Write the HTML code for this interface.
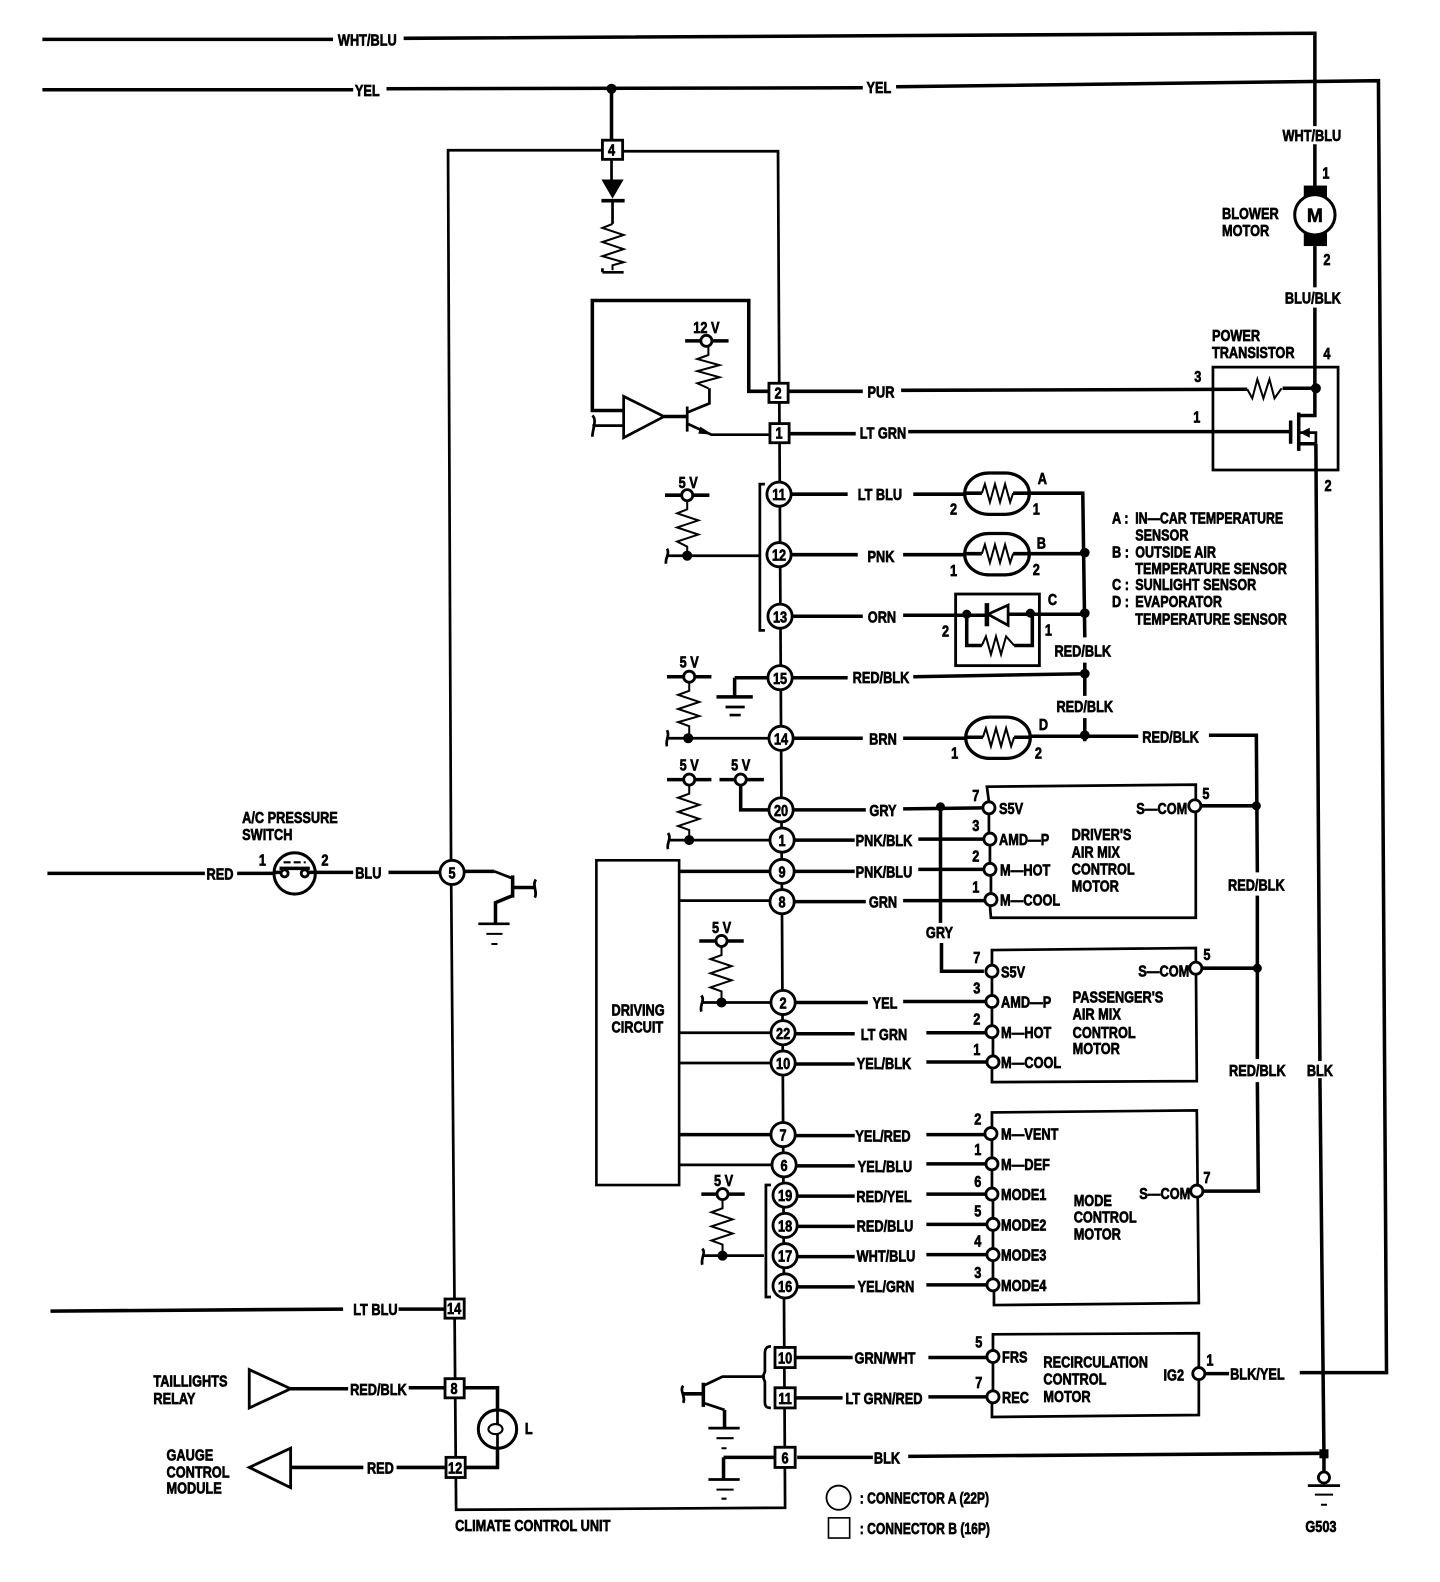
<!DOCTYPE html>
<html><head><meta charset="utf-8"><title>Climate Control Wiring Diagram</title>
<style>
html,body{margin:0;padding:0;background:#fff;width:1440px;height:1582px;overflow:hidden}
svg{display:block}
.w{fill:none;stroke:#000;stroke-width:3.5;stroke-linejoin:miter}
.n{fill:none;stroke:#000;stroke-width:2.7}
.z{fill:none;stroke:#000;stroke-width:2}
.c{fill:#fff;stroke:#000;stroke-width:2.8}
.d{fill:#000;stroke:none}
text{font-family:"Liberation Sans",sans-serif;font-weight:700;font-size:16px;fill:#000;stroke:#000;stroke-width:.7;text-anchor:middle}
.s{text-anchor:start}
</style></head><body>
<svg width="1440" height="1582" viewBox="0 0 1427 1568.6" preserveAspectRatio="none" xmlns="http://www.w3.org/2000/svg">
<rect x="0" y="0" width="1427" height="1569" fill="#fff"/>

<!-- top feeds -->
<path class="w" d="M42 39H330M400 38L1303 33V125M1303 143V185M1303 244V285M1303 305V412H1287M1304 440H1287M1304 440L1308 1052M1308 1069L1312 1442V1460"/>
<path class="w" d="M42 89H350M383 88L855 87M888 86L1366 80L1374 1361H1288M1218 1362H1195"/>
<path class="w" d="M606 88V139"/><circle class="d" cx="606" cy="88" r="5"/>

<!-- climate control unit outline and buses -->
<path class="n" d="M597 149H444L447 860L452 1497L778 1495L771 150H615"/>

<!-- diode + resistor -->
<path class="n" d="M606 157V178"/>
<path class="d" d="M596 178H618L607 197Z"/>
<path class="w" d="M596 199H619"/>
<path class="n" d="M607 199V222"/>
<path class="z" d="M607 222L597 226L618 233L597 240L618 247L597 254L618 260L607 263V268"/>
<path class="n" d="M597 270H618M597 270V266"/>

<!-- op amp and transistor -->
<path class="w" d="M618 407H587V298H742V388H763"/>
<path class="n" d="M587 422H618M587 412C592 416 587 426 587 433"/>
<path class="n" d="M618 393V434L658 413Z" style="fill:#fff"/>
<path class="w" d="M658 413H680"/>
<path class="n" d="M681 403V428M681 409L703 400V385M681 420L705 431H763"/>
<path class="d" d="M694 423L706 431L692 430Z"/>
<path class="z" d="M702 385L691 380L713 374L691 368L713 362L691 356L702 352V343"/>
<path class="w" d="M679 338H722"/><circle class="c" cx="700" cy="338" r="5.5"/>
<text transform="translate(700,330)scale(.79,1)">12 V</text>

<!-- PUR / LT GRN -->
<path class="w" d="M780 388H855M893 387L1236 386M1271 385H1304"/>
<path class="w" d="M781 430H848M900 428H1278"/>
<circle class="d" cx="1304" cy="385" r="5"/>
<path class="n" d="M1202 364H1326V466H1202Z"/>
<path class="z" d="M1236 386L1241 395L1246 376L1252 395L1258 376L1263 395L1270 385"/>
<path class="w" d="M1279 417V440M1287 409V447"/>
<path class="n" d="M1287 429H1304V440"/>
<path class="d" d="M1288 429L1298 424V434Z"/>

<!-- blower motor -->
<rect class="d" x="1292" y="184" width="23" height="60"/>
<circle cx="1303" cy="213" r="20" fill="#fff" stroke="#000" stroke-width="3"/>

<!-- sensors 5V -->
<path class="w" d="M659 491H703"/><circle class="c" cx="681" cy="491" r="5.5"/>
<path class="z" d="M681 497V505L671 509L692 516L671 523L692 530L671 537L681 542V551"/>
<path class="n" d="M661 551H752M661 544C664 549 659 553 660 559"/>
<circle class="d" cx="681" cy="551" r="5"/>
<path class="n" d="M758 480H753V625H758"/>

<!-- 11 12 13 -->
<path class="w" d="M785 490H840M905 490H956M1020 489H1073L1075 632M1075 657V690M1075 712V735"/>
<path class="w" d="M785 550H850M895 550H956M1020 549H1075"/>
<path class="w" d="M786 611H855M895 610H979M999 609H1075"/>
<circle class="d" cx="1075" cy="548" r="4.8"/><circle class="d" cx="1075" cy="608" r="4.8"/>
<circle class="d" cx="1075" cy="668" r="4.8"/><circle class="d" cx="1075" cy="729" r="4.8"/>

<rect x="956" y="469" width="64" height="41" rx="24" class="c" style="stroke-width:3.2"/>
<path class="z" d="M973 489L976 480L981 498L986 480L991 498L996 480L1001 498L1004 489"/>
<path class="w" d="M956 489H973M1004 489H1020"/>
<rect x="956" y="529" width="64" height="41" rx="24" class="c" style="stroke-width:3.2"/>
<path class="z" d="M973 549L976 540L981 558L986 540L991 558L996 540L1001 558L1004 549"/>
<path class="w" d="M956 549H973M1004 549H1020"/>
<rect x="957" y="711" width="64" height="41" rx="24" class="c" style="stroke-width:3.2"/>
<path class="z" d="M974 731L977 722L982 740L987 722L992 740L997 722L1002 740L1005 731"/>
<path class="w" d="M957 731H974M1005 731H1021"/>
<rect x="947" y="589" width="83" height="71" class="n" style="stroke-width:2.8"/>
<path class="w" d="M958 609V640H973M1005 640H1023V608"/>
<path class="n" d="M979 609L999 600V620Z"/><path d="M978 598V621" fill="none" stroke="#000" stroke-width="4.5"/>
<path class="z" d="M973 640L977 631L982 649L987 631L992 649L997 631L1005 640"/>
<circle class="d" cx="958" cy="609" r="4.5"/><circle class="d" cx="1021" cy="608" r="4.5"/>

<!-- 15 / 14 -->
<path class="w" d="M661 671H705"/><circle class="c" cx="683" cy="671" r="5.5"/>
<path class="z" d="M683 677V685L672 689L693 696L672 703L693 710L672 716L683 720V732"/>
<path class="n" d="M661 732H764M661 724C664 730 659 734 661 740"/>
<circle class="d" cx="682" cy="732" r="5"/>
<path class="w" d="M728 672H763V672M728 672V690"/>
<path class="w" d="M710 691H746"/><path class="n" d="M719 701H738M723 709H734"/>
<path class="w" d="M785 672H840M905 671L1075 668"/>
<path class="w" d="M786 732H855M895 732H957M1021 730H1128M1198 729H1245L1246 865M1246 888V1050M1246 1073L1247 1181H1192"/>
<circle class="d" cx="1245" cy="799" r="4.5"/><circle class="d" cx="1246" cy="960" r="4.5"/>

<!-- 20 / 1 5V -->
<path class="w" d="M661 773H705M713 773H757"/>
<circle class="c" cx="683" cy="773" r="5.5"/><circle class="c" cx="734" cy="773" r="5.5"/>
<path class="w" d="M734 779V803H764"/>
<path class="z" d="M683 779V787L672 791L693 798L672 805L693 812L672 819L683 823V833"/>
<path class="n" d="M662 833H765M662 826C666 832 660 836 662 842"/>
<circle class="d" cx="683" cy="833" r="5"/>

<!-- driving circuit -->
<rect x="591" y="853" width="82" height="322" class="n" style="stroke-width:2.6;fill:#fff"/>
<path class="w" d="M673 864H765M673 1125H765"/>
<path class="n" d="M673 893H765M673 1024H765M673 1054H765M673 1155H766"/>

<!-- 5V for 2 -->
<path class="w" d="M693 933H737"/><circle class="c" cx="715" cy="933" r="5.5"/>
<path class="z" d="M715 939V947L704 951L725 958L704 965L725 972L704 979L715 983V994"/>
<path class="n" d="M695 994H765M695 987C699 992 693 996 695 1003"/>
<circle class="d" cx="715" cy="994" r="5"/>

<!-- 5V for 19-16 -->
<path class="w" d="M695 1184H738"/><circle class="c" cx="716" cy="1184" r="5.5"/>
<path class="z" d="M716 1190V1198L705 1202L726 1209L705 1216L726 1223L705 1230L716 1234V1245"/>
<path class="n" d="M696 1245H757M696 1238C700 1243 694 1247 696 1254"/>
<circle class="d" cx="716" cy="1245" r="5"/>
<path class="n" d="M764 1175H759V1286H764"/>

<!-- right side pin wires -->
<path class="w" d="M786 803H858M895 802L975 801"/>
<circle class="d" cx="932" cy="800" r="4.5"/>
<path class="w" d="M932 800V915M933 935V963H975"/>
<path class="w" d="M787 833H847M910 832H975M787 864H847M910 862H975M787 894H858M895 893H976"/>
<path class="w" d="M787 994H860M895 993H977M787 1025H847M918 1024H977M787 1055H847M918 1053H978"/>
<path class="w" d="M788 1126H847M918 1125H976M788 1156H847M918 1154H977M790 1186H847M918 1184H977M790 1216H847M918 1214H978M790 1246H847M918 1244H978M790 1276H847M918 1274H978"/>
<path class="w" d="M787 1346H845M920 1346H978M787 1386H835M920 1385H978"/>

<!-- motor boxes -->
<path class="n" d="M980 795L978 780L1185 778V910H982L981 898M980 807V826M981 838V856M982 868V886"/>
<path class="n" d="M983 957V942L1185 940L1186 1072L983 1073V1059M983 969V987M983 999V1017M984 1029V1047"/>
<path class="n" d="M983 1118V1103L1186 1101L1188 1292L985 1294V1280M983 1130V1148M983 1160V1178M984 1190V1208M984 1220V1238M984 1250V1268"/>
<path class="n" d="M984 1339V1323L1188 1322V1403L983 1405V1391M984 1351V1379"/>
<path class="w" d="M1190 799H1245M1190 960H1246"/>

<g class="pins">
<circle class="c" cx="980" cy="801" r="6"/><circle class="c" cx="981" cy="832" r="6"/><circle class="c" cx="981" cy="862" r="6"/><circle class="c" cx="982" cy="892" r="6"/><circle class="c" cx="1184" cy="799" r="6"/>
<circle class="c" cx="983" cy="963" r="6"/><circle class="c" cx="983" cy="993" r="6"/><circle class="c" cx="983" cy="1023" r="6"/><circle class="c" cx="984" cy="1053" r="6"/><circle class="c" cx="1185" cy="960" r="6"/>
<circle class="c" cx="982" cy="1124" r="6"/><circle class="c" cx="983" cy="1154" r="6"/><circle class="c" cx="983" cy="1184" r="6"/><circle class="c" cx="984" cy="1214" r="6"/><circle class="c" cx="984" cy="1244" r="6"/><circle class="c" cx="984" cy="1274" r="6"/><circle class="c" cx="1186" cy="1181" r="6"/>
<circle class="c" cx="984" cy="1345" r="6"/><circle class="c" cx="984" cy="1385" r="6"/><circle class="c" cx="1188" cy="1362" r="6"/>
</g>

<!-- lower transistor and grounds -->
<path class="w" d="M676 1382H697"/><path class="n" d="M677 1374C673 1379 680 1385 677 1391"/>
<path class="w" d="M697 1371V1395"/>
<path class="n" d="M697 1374L716 1365H758M697 1391L718 1398"/>
<path class="w" d="M718 1398V1416"/>
<path class="n" d="M702 1416H733"/><path class="z" d="M710 1426H727M715 1436H720"/>
<path class="n" d="M764 1335C759 1335 758 1338 758 1342V1360L756 1365L758 1370V1390C758 1394 759 1396 764 1396"/>
<path class="w" d="M717 1445H768M790 1445H865M900 1444L1312 1441M717 1445V1467"/>
<path class="n" d="M702 1467H733"/><path class="z" d="M710 1477H727M715 1486H720"/>
<rect x="1307.5" y="1437" width="9" height="9" class="d"/>
<circle class="c" cx="1312" cy="1465" r="5.5"/>
<path class="n" d="M1296 1473H1328"/><path class="z" d="M1303 1482H1321M1309 1492H1315"/>

<!-- left: A/C switch -->
<path class="w" d="M47 866H203M235 866H272M313 865H350M385 865H438"/>
<circle cx="292" cy="866" r="20.5" fill="#fff" stroke="#000" stroke-width="3"/>
<path class="w" d="M272 865H279M306 865H313M277 861H307"/>
<circle class="c" cx="282" cy="866" r="3.5"/><circle class="c" cx="302" cy="866" r="3.5"/>
<path class="z" d="M281 855H303" stroke-dasharray="7 3"/>
<path class="w" d="M457 864H490"/>
<path class="n" d="M490 864L508 871"/>
<path class="w" d="M508 868V890M508 880H529"/>
<path class="n" d="M531 872C527 878 533 884 530 890"/>
<path class="w" d="M508 888L491 895V917"/>
<path class="n" d="M474 916H505"/><path class="z" d="M482 926H498M487 936H493"/>

<!-- left: LT BLU, taillight, gauge -->
<path class="w" d="M50 1300L340 1298M395 1298H441"/>
<path class="w" d="M247 1358V1396L288 1377Z" style="stroke-width:2.8"/>
<path class="w" d="M288 1377H345M405 1376H441M460 1376H493V1398M493 1436V1455H461"/>
<path class="w" d="M288 1436V1475L247 1455Z" style="stroke-width:2.8"/>
<path class="w" d="M288 1455H360M393 1455H441"/>
<circle cx="493" cy="1417" r="19" fill="#fff" stroke="#000" stroke-width="3"/>
<path class="n" d="M493 1398V1412M493 1422V1436"/>
<ellipse cx="491" cy="1417" rx="7" ry="5" fill="none" stroke="#000" stroke-width="2"/>

<!-- square connectors -->
<g>
<rect class="c" x="597" y="139" width="20" height="19"/><rect class="c" x="762" y="380" width="19" height="19"/><rect class="c" x="763" y="420" width="19" height="19"/>
<rect class="c" x="441" y="1288" width="19" height="19"/><rect class="c" x="441" y="1367" width="19" height="19"/><rect class="c" x="442" y="1445" width="19" height="20"/>
<rect class="c" x="768" y="1336" width="20" height="20"/><rect class="c" x="768" y="1376" width="20" height="20"/><rect class="c" x="768" y="1435" width="20" height="20"/>
</g>
<!-- round connectors -->
<g>
<circle class="c" cx="772" cy="490" r="12"/><circle class="c" cx="772" cy="550" r="12"/><circle class="c" cx="773" cy="611" r="12"/><circle class="c" cx="773" cy="672" r="12"/><circle class="c" cx="774" cy="732" r="12"/><circle class="c" cx="774" cy="803" r="12"/><circle class="c" cx="775" cy="833" r="12"/><circle class="c" cx="775" cy="864" r="12"/><circle class="c" cx="775" cy="894" r="12"/><circle class="c" cx="776" cy="994" r="12"/><circle class="c" cx="776" cy="1024" r="12"/><circle class="c" cx="776" cy="1054" r="12"/><circle class="c" cx="776" cy="1125" r="12"/><circle class="c" cx="777" cy="1155" r="12"/><circle class="c" cx="778" cy="1185" r="12"/><circle class="c" cx="778" cy="1215" r="12"/><circle class="c" cx="778" cy="1245" r="12"/><circle class="c" cx="778" cy="1275" r="12"/><circle class="c" cx="448" cy="865" r="12"/>
</g>

<!-- connector numbers -->
<g>
<text transform="translate(606,154)scale(.79,1)">4</text><text transform="translate(771,395)scale(.79,1)">2</text><text transform="translate(772,435)scale(.79,1)">1</text>
<text transform="translate(772,496)scale(.79,1)">11</text><text transform="translate(772,556)scale(.79,1)">12</text><text transform="translate(773,617)scale(.79,1)">13</text><text transform="translate(773,678)scale(.79,1)">15</text><text transform="translate(774,738)scale(.79,1)">14</text><text transform="translate(774,809)scale(.79,1)">20</text><text transform="translate(775,839)scale(.79,1)">1</text><text transform="translate(775,870)scale(.79,1)">9</text><text transform="translate(775,900)scale(.79,1)">8</text><text transform="translate(776,1000)scale(.79,1)">2</text><text transform="translate(776,1030)scale(.79,1)">22</text><text transform="translate(776,1060)scale(.79,1)">10</text><text transform="translate(776,1131)scale(.79,1)">7</text><text transform="translate(777,1161)scale(.79,1)">6</text><text transform="translate(778,1191)scale(.79,1)">19</text><text transform="translate(778,1221)scale(.79,1)">18</text><text transform="translate(778,1251)scale(.79,1)">17</text><text transform="translate(778,1281)scale(.79,1)">16</text>
<text transform="translate(778,1352)scale(.79,1)">10</text><text transform="translate(778,1392)scale(.79,1)">11</text><text transform="translate(778,1451)scale(.79,1)">6</text>
<text transform="translate(448,871)scale(.79,1)">5</text><text transform="translate(450,1303)scale(.79,1)">14</text><text transform="translate(450,1382)scale(.79,1)">8</text><text transform="translate(451,1461)scale(.79,1)">12</text>
</g>

<!-- wire labels -->
<g>
<text transform="translate(364,45)scale(.79,1)">WHT/BLU</text><text transform="translate(364,95)scale(.79,1)">YEL</text><text transform="translate(871,92)scale(.79,1)">YEL</text>
<text transform="translate(1300,140)scale(.79,1)">WHT/BLU</text><text transform="translate(1301,301)scale(.79,1)">BLU/BLK</text>
<text transform="translate(873,394)scale(.79,1)">PUR</text><text transform="translate(875,435)scale(.79,1)">LT GRN</text>
<text transform="translate(872,496)scale(.79,1)">LT BLU</text><text transform="translate(873,557)scale(.79,1)">PNK</text><text transform="translate(874,617)scale(.79,1)">ORN</text>
<text transform="translate(873,677)scale(.79,1)">RED/BLK</text><text transform="translate(875,738)scale(.79,1)">BRN</text>
<text transform="translate(1073,651)scale(.79,1)">RED/BLK</text><text transform="translate(1075,706)scale(.79,1)">RED/BLK</text><text transform="translate(1160,736)scale(.79,1)">RED/BLK</text><text transform="translate(1245,883)scale(.79,1)">RED/BLK</text><text transform="translate(1246,1067)scale(.79,1)">RED/BLK</text><text transform="translate(1308,1067)scale(.79,1)">BLK</text>
<text transform="translate(875,809)scale(.79,1)">GRY</text><text transform="translate(876,839)scale(.79,1)">PNK/BLK</text><text transform="translate(876,870)scale(.79,1)">PNK/BLU</text><text transform="translate(875,900)scale(.79,1)">GRN</text><text transform="translate(931,930)scale(.79,1)">GRY</text>
<text transform="translate(877,1000)scale(.79,1)">YEL</text><text transform="translate(876,1031)scale(.79,1)">LT GRN</text><text transform="translate(876,1060)scale(.79,1)">YEL/BLK</text>
<text transform="translate(875,1132)scale(.79,1)">YEL/RED</text><text transform="translate(877,1162)scale(.79,1)">YEL/BLU</text><text transform="translate(876,1192)scale(.79,1)">RED/YEL</text><text transform="translate(877,1221)scale(.79,1)">RED/BLU</text><text transform="translate(878,1251)scale(.79,1)">WHT/BLU</text><text transform="translate(878,1281)scale(.79,1)">YEL/GRN</text>
<text transform="translate(877,1352)scale(.79,1)">GRN/WHT</text><text transform="translate(876,1392)scale(.79,1)">LT GRN/RED</text><text transform="translate(879,1451)scale(.79,1)">BLK</text>
<text transform="translate(1246,1368)scale(.79,1)">BLK/YEL</text>
<text transform="translate(218,872)scale(.79,1)">RED</text><text transform="translate(365,871)scale(.79,1)">BLU</text><text transform="translate(372,1304)scale(.79,1)">LT BLU</text><text transform="translate(375,1383)scale(.79,1)">RED/BLK</text><text transform="translate(377,1461)scale(.79,1)">RED</text>
</g>

<!-- pin numbers -->
<g>
<text transform="translate(1314,177)scale(.79,1)">1</text><text transform="translate(1315,263)scale(.79,1)">2</text><text transform="translate(1315,356)scale(.79,1)">4</text><text transform="translate(1187,379)scale(.79,1)">3</text><text transform="translate(1186,419)scale(.79,1)">1</text><text transform="translate(1316,487)scale(.79,1)">2</text>
<text transform="translate(945,510)scale(.79,1)">2</text><text transform="translate(1027,510)scale(.79,1)">1</text><text transform="translate(945,571)scale(.79,1)">1</text><text transform="translate(1027,570)scale(.79,1)">2</text><text transform="translate(937,631)scale(.79,1)">2</text><text transform="translate(1039,630)scale(.79,1)">1</text><text transform="translate(946,752)scale(.79,1)">1</text><text transform="translate(1029,752)scale(.79,1)">2</text>
<text transform="translate(1033,480)scale(.79,1)">A</text><text transform="translate(1032,544)scale(.79,1)">B</text><text transform="translate(1043,600)scale(.79,1)">C</text><text transform="translate(1034,724)scale(.79,1)">D</text>
<text transform="translate(967,794)scale(.79,1)">7</text><text transform="translate(967,824)scale(.79,1)">3</text><text transform="translate(967,854)scale(.79,1)">2</text><text transform="translate(967,885)scale(.79,1)">1</text><text transform="translate(1195,792)scale(.79,1)">5</text>
<text transform="translate(968,955)scale(.79,1)">7</text><text transform="translate(968,985)scale(.79,1)">3</text><text transform="translate(968,1016)scale(.79,1)">2</text><text transform="translate(968,1046)scale(.79,1)">1</text><text transform="translate(1196,952)scale(.79,1)">5</text>
<text transform="translate(969,1115)scale(.79,1)">2</text><text transform="translate(969,1145)scale(.79,1)">1</text><text transform="translate(969,1177)scale(.79,1)">6</text><text transform="translate(969,1206)scale(.79,1)">5</text><text transform="translate(969,1236)scale(.79,1)">4</text><text transform="translate(969,1267)scale(.79,1)">3</text><text transform="translate(1196,1173)scale(.79,1)">7</text>
<text transform="translate(970,1336)scale(.79,1)">5</text><text transform="translate(970,1376)scale(.79,1)">7</text><text transform="translate(1199,1354)scale(.79,1)">1</text>
<text transform="translate(260,858)scale(.79,1)">1</text><text transform="translate(322,858)scale(.79,1)">2</text><text transform="translate(524,1422)scale(.79,1)">L</text>
</g>

<!-- voltage labels -->
<g>
<text transform="translate(682,484)scale(.79,1)">5 V</text><text transform="translate(683,662)scale(.79,1)">5 V</text><text transform="translate(683,764)scale(.79,1)">5 V</text><text transform="translate(734,764)scale(.79,1)">5 V</text><text transform="translate(715,925)scale(.79,1)">5 V</text><text transform="translate(717,1176)scale(.79,1)">5 V</text>
</g>

<!-- motor-box labels -->
<g>
<text class="s" transform="translate(990,807)scale(.79,1)">S5V</text><text class="s" transform="translate(990,838)scale(.79,1)">AMD—P</text><text class="s" transform="translate(991,868)scale(.79,1)">M—HOT</text><text class="s" transform="translate(991,898)scale(.79,1)">M—COOL</text><text class="s" transform="translate(1126,807)scale(.79,1)">S—COM</text>
<text class="s" transform="translate(1062,833)scale(.79,1)">DRIVER'S</text><text class="s" transform="translate(1062,850)scale(.79,1)">AIR MIX</text><text class="s" transform="translate(1062,867)scale(.79,1)">CONTROL</text><text class="s" transform="translate(1062,884)scale(.79,1)">MOTOR</text>
<text class="s" transform="translate(992,969)scale(.79,1)">S5V</text><text class="s" transform="translate(992,999)scale(.79,1)">AMD—P</text><text class="s" transform="translate(992,1029)scale(.79,1)">M—HOT</text><text class="s" transform="translate(992,1059)scale(.79,1)">M—COOL</text><text class="s" transform="translate(1128,968)scale(.79,1)">S—COM</text>
<text class="s" transform="translate(1063,994)scale(.79,1)">PASSENGER'S</text><text class="s" transform="translate(1063,1011)scale(.79,1)">AIR MIX</text><text class="s" transform="translate(1063,1029)scale(.79,1)">CONTROL</text><text class="s" transform="translate(1063,1045)scale(.79,1)">MOTOR</text>
<text class="s" transform="translate(992,1130)scale(.79,1)">M—VENT</text><text class="s" transform="translate(992,1160)scale(.79,1)">M—DEF</text><text class="s" transform="translate(992,1190)scale(.79,1)">MODE1</text><text class="s" transform="translate(992,1220)scale(.79,1)">MODE2</text><text class="s" transform="translate(992,1250)scale(.79,1)">MODE3</text><text class="s" transform="translate(992,1280)scale(.79,1)">MODE4</text><text class="s" transform="translate(1129,1189)scale(.79,1)">S—COM</text>
<text class="s" transform="translate(1064,1196)scale(.79,1)">MODE</text><text class="s" transform="translate(1064,1212)scale(.79,1)">CONTROL</text><text class="s" transform="translate(1064,1229)scale(.79,1)">MOTOR</text>
<text class="s" transform="translate(993,1351)scale(.79,1)">FRS</text><text class="s" transform="translate(993,1391)scale(.79,1)">REC</text><text class="s" transform="translate(1034,1356)scale(.79,1)">RECIRCULATION</text><text class="s" transform="translate(1034,1373)scale(.79,1)">CONTROL</text><text class="s" transform="translate(1034,1390)scale(.79,1)">MOTOR</text><text class="s" transform="translate(1153,1369)scale(.79,1)">IG2</text>
</g>

<!-- component labels -->
<g>
<text x="1303" y="220" style="font-size:19px;stroke-width:.6">M</text>
<text class="s" transform="translate(1211,217)scale(.79,1)">BLOWER</text><text class="s" transform="translate(1211,234)scale(.79,1)">MOTOR</text>
<text class="s" transform="translate(1201,338)scale(.79,1)">POWER</text><text class="s" transform="translate(1201,355)scale(.79,1)">TRANSISTOR</text>
<text class="s" transform="translate(1102,519)scale(.79,1)">A :</text><text class="s" transform="translate(1125,519)scale(.765,1)">IN—CAR TEMPERATURE</text><text class="s" transform="translate(1125,536)scale(.78,1)">SENSOR</text>
<text class="s" transform="translate(1102,553)scale(.79,1)">B :</text><text class="s" transform="translate(1125,553)scale(.78,1)">OUTSIDE AIR</text><text class="s" transform="translate(1125,569)scale(.78,1)">TEMPERATURE SENSOR</text>
<text class="s" transform="translate(1102,585)scale(.79,1)">C :</text><text class="s" transform="translate(1125,585)scale(.78,1)">SUNLIGHT SENSOR</text>
<text class="s" transform="translate(1102,602)scale(.79,1)">D :</text><text class="s" transform="translate(1125,602)scale(.78,1)">EVAPORATOR</text><text class="s" transform="translate(1125,619)scale(.78,1)">TEMPERATURE SENSOR</text>
<text class="s" transform="translate(240,816)scale(.79,1)">A/C PRESSURE</text><text class="s" transform="translate(240,833)scale(.79,1)">SWITCH</text>
<text class="s" transform="translate(606,1007)scale(.79,1)">DRIVING</text><text class="s" transform="translate(606,1024)scale(.79,1)">CIRCUIT</text>
<text class="s" transform="translate(152,1375)scale(.79,1)">TAILLIGHTS</text><text class="s" transform="translate(152,1392)scale(.79,1)">RELAY</text>
<text class="s" transform="translate(165,1448)scale(.79,1)">GAUGE</text><text class="s" transform="translate(165,1465)scale(.79,1)">CONTROL</text><text class="s" transform="translate(165,1481)scale(.79,1)">MODULE</text>
<text class="s" transform="translate(451,1518)scale(.79,1)">CLIMATE CONTROL UNIT</text>
<text class="s" transform="translate(852,1491)scale(.75,1)">: CONNECTOR A (22P)</text><text class="s" transform="translate(852,1521)scale(.75,1)">: CONNECTOR B (16P)</text>
<text transform="translate(1309,1519)scale(.79,1)">G503</text>
</g>
<circle cx="831" cy="1485" r="12" fill="#fff" stroke="#000" stroke-width="1.8"/>
<rect x="821" y="1505" width="21" height="20" fill="#fff" stroke="#000" stroke-width="1.6"/>
</svg>
</body></html>
